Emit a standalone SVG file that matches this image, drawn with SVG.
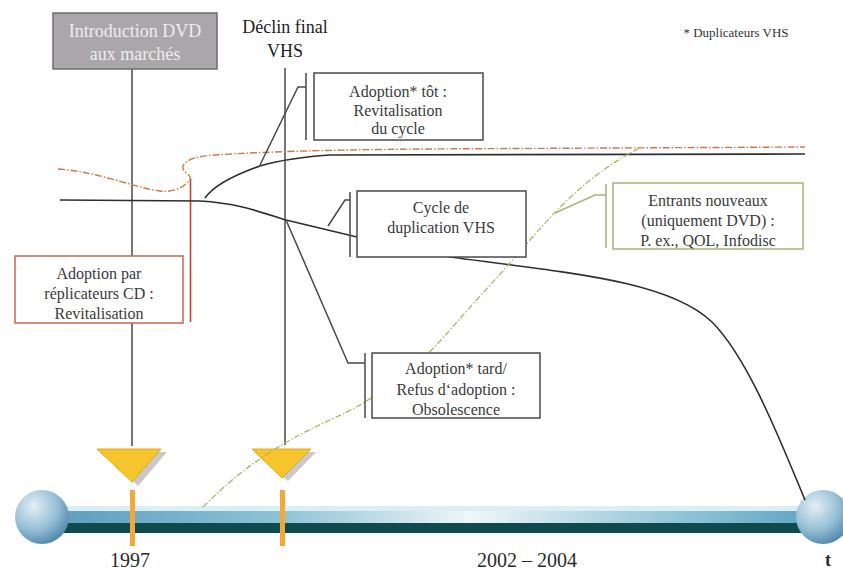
<svg xmlns="http://www.w3.org/2000/svg" width="843" height="570" viewBox="0 0 843 570">
  <style>
    .box { fill: #ffffff; stroke: #4a4a4a; stroke-width: 1.5; }
    text { font-family: 'Liberation Serif', 'DejaVu Serif', serif; }
    .lbl { font-size: 16px; fill: #3a3a3a; text-anchor: middle; }
    .line { fill: none; stroke: #3c3c3c; stroke-width: 1.4; }
    .curve { fill: none; stroke: #2e2e2e; stroke-width: 1.6; }
    .bracket { fill: none; stroke: #4a4a4a; stroke-width: 1.5; }
    .year { font-size: 20px; fill: #2a2a2a; text-anchor: middle; }
  </style>
  <defs>
    <linearGradient id="barBlue" x1="0" y1="0" x2="1" y2="0">
      <stop offset="0" stop-color="#5a9fbe"/>
      <stop offset="0.3" stop-color="#8ec2d6"/>
      <stop offset="0.55" stop-color="#eef6f8"/>
      <stop offset="0.75" stop-color="#a8d2e0"/>
      <stop offset="1" stop-color="#5ea6c4"/>
    </linearGradient>
    <radialGradient id="ball" cx="0.35" cy="0.3" r="0.75">
      <stop offset="0" stop-color="#e4eff5"/>
      <stop offset="0.6" stop-color="#93bdd4"/>
      <stop offset="1" stop-color="#4f86ad"/>
    </radialGradient>
  </defs>

  <rect width="843" height="570" fill="#ffffff"/>

  <!-- time axis -->
  <g id="timeline">
    <rect x="52" y="506" width="760" height="8" fill="#dbeef4"/>
    <rect x="52" y="511" width="760" height="12" fill="url(#barBlue)"/>
    <rect x="52" y="523" width="760" height="10" fill="#0f4a4f"/>
    <circle cx="42" cy="517" r="27" fill="url(#ball)"/>
    <circle cx="823" cy="517" r="27" fill="url(#ball)"/>
    <rect x="130" y="490" width="5" height="56" fill="#f2a93a"/>
    <rect x="280" y="490" width="5" height="56" fill="#f2a93a"/>
    <text class="year" x="130" y="567" font-family="Liberation Serif, serif">1997</text>
    <text class="year" x="527" y="567" font-family="Liberation Serif, serif">2002 – 2004</text>
    <text x="828" y="566" font-family="Liberation Serif, serif" font-size="18" font-weight="bold" fill="#2a2a2a" text-anchor="middle">t</text>
  </g>

  <!-- milestone markers -->
  <g id="marker-1997">
    <polygon points="103,452 167,452 138,486" fill="#c9c9c9"/>
    <polygon points="97,449 161,449 132,482" fill="#f6c42c" stroke="#e2a91c" stroke-width="1"/>
  </g>
  <g id="marker-2002">
    <polygon points="257,452 316,452 288,481" fill="#c9c9c9"/>
    <polygon points="252,449 311,449 282,478" fill="#f6c42c" stroke="#e2a91c" stroke-width="1"/>
  </g>

  <g id="connectors">
    <!-- milestone drop lines -->
    <line class="line" x1="132" y1="69" x2="132" y2="446"/>
    <line class="line" x1="285" y1="68" x2="285" y2="445"/>

    <!-- CD replicator curve (dash-dot) -->
    <path d="M58,169 C100,172 135,188 160,191 C175,193 185,186 190,180 C193,175 181,172 183,166 C186,159 198,156 215,155 C260,152 320,150 420,149 L805,147" fill="none" stroke="#cc7a44" stroke-width="1.4" stroke-dasharray="7 2 1.5 2"/>
    <line x1="190.5" y1="179" x2="190.5" y2="322" stroke="#c4402e" stroke-width="1.6"/>

    <!-- early adoption curve -->
    <path class="curve" d="M205,198 C212,188 226,178 260,166 C280,160 300,157 330,155 C360,154 400,154 805,154"/>

    <!-- VHS duplication cycle curve -->
    <path class="curve" d="M60,200 L200,201 C235,203 255,210 286,220 L357,237 L450,257 C580,274 670,282 712,322 C748,358 780,440 805,500"/>

    <!-- DVD new entrants curve (dash-dot) -->
    <path d="M203,507 C240,470 275,445 330,420 C380,398 420,365 450,330 C480,295 505,270 530,240 C560,205 595,170 640,148" fill="none" stroke="#a9b56a" stroke-width="1.3" stroke-dasharray="6 2 1.5 2"/>

    <!-- callout leaders and brackets -->
    <path class="bracket" d="M306,73 V140 M306,87 H298 L260,165"/>
    <path class="bracket" d="M350,192 V257 M350,200 H345 L328,226"/>
    <path class="bracket" d="M286,220 L348,363 H365 M365,353 V418"/>
    <path d="M606,184 V248 M606,195 H595 L555,213" fill="none" stroke="#a8b47a" stroke-width="1.5"/>
  </g>

  <g id="node-intro-dvd" font-family="Liberation Serif, serif">
    <rect x="53" y="13" width="164" height="56" fill="#a9a7a9" stroke="#6e6e6e" stroke-width="1.5"/>
    <text class="lbl" x="135" y="37" style="font-size:18px; fill:#eeedee">Introduction DVD</text>
    <text class="lbl" x="135" y="60" style="font-size:18px; fill:#eeedee">aux marchés</text>
  </g>

  <g id="node-declin" font-family="Liberation Serif, serif">
    <text class="lbl" x="285" y="33" style="font-size:18px; fill:#222">Déclin final</text>
    <text class="lbl" x="285" y="57" style="font-size:18px; fill:#222">VHS</text>
  </g>

  <g id="node-legend">
    <text x="736" y="37" font-family="Liberation Serif, serif" font-size="13" fill="#333" text-anchor="middle">* Duplicateurs VHS</text>
  </g>

  <g id="node-adoption-tot" font-family="Liberation Serif, serif">
    <rect class="box" x="314" y="73" width="169" height="67"/>
    <text class="lbl" x="398" y="97">Adoption* tôt :</text>
    <text class="lbl" x="398" y="116">Revitalisation</text>
    <text class="lbl" x="398" y="134">du cycle</text>
  </g>

  <g id="node-cycle-vhs" font-family="Liberation Serif, serif">
    <rect class="box" x="357" y="191" width="169" height="66"/>
    <text class="lbl" x="441" y="213">Cycle de</text>
    <text class="lbl" x="441" y="233">duplication VHS</text>
  </g>

  <g id="node-entrants" font-family="Liberation Serif, serif">
    <rect x="613" y="183" width="190" height="66" fill="#ffffff" stroke="#a8b47a" stroke-width="1.5"/>
    <text class="lbl" x="708" y="206">Entrants nouveaux</text>
    <text class="lbl" x="708" y="226">(uniquement DVD) :</text>
    <text class="lbl" x="708" y="246">P. ex., QOL, Infodisc</text>
  </g>

  <g id="node-replicateurs" font-family="Liberation Serif, serif">
    <rect x="15" y="256" width="168" height="67" fill="#ffffff" stroke="#c8674e" stroke-width="1.5"/>
    <text class="lbl" x="99" y="279">Adoption par</text>
    <text class="lbl" x="99" y="299">réplicateurs CD :</text>
    <text class="lbl" x="99" y="319">Revitalisation</text>
  </g>

  <g id="node-adoption-tard" font-family="Liberation Serif, serif">
    <rect class="box" x="372" y="353" width="168" height="65"/>
    <text class="lbl" x="456" y="374">Adoption* tard/</text>
    <text class="lbl" x="456" y="395">Refus d‘adoption :</text>
    <text class="lbl" x="456" y="415">Obsolescence</text>
  </g>
</svg>
